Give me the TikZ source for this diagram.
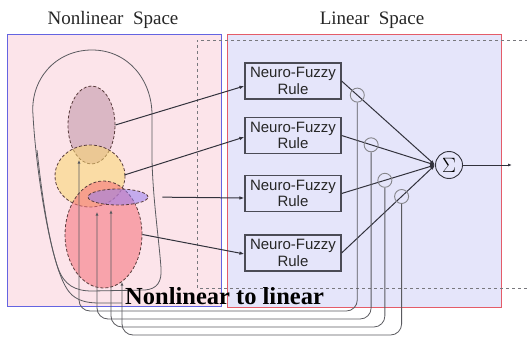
\documentclass[tikz,border=0pt]{standalone}
\usepackage{fontspec}
\setmainfont{Liberation Serif}
\setsansfont{Liberation Sans}
\usetikzlibrary{shapes.geometric,arrows.meta,calc}
\definecolor{pinkbg}{RGB}{252,228,234}
\definecolor{lavbg}{RGB}{229,229,250}
\definecolor{blueedge}{RGB}{100,100,225}
\definecolor{rededge}{RGB}{228,92,104}
\definecolor{dashc}{RGB}{120,120,125}
\definecolor{linec}{RGB}{50,50,60}
\definecolor{fbc}{RGB}{90,90,95}
\definecolor{boxc}{RGB}{75,75,85}
\definecolor{ellc}{RGB}{90,60,60}
\begin{document}
\begin{tikzpicture}[x=1pt,y=-1pt,
  tip/.style={-{Latex[length=5pt,width=3.6pt]}},
  conn/.style={draw=linec,line width=1pt,tip},
  fb/.style={draw=fbc,line width=0.8pt,rounded corners=11pt,-{Latex[length=3.5pt,width=3pt]}},
  contour/.style={draw=fbc,line width=0.8pt},
  rulebox/.style={draw=boxc,line width=1.2pt,fill=lavbg,minimum width=96pt,minimum height=36pt,inner sep=0pt,align=center,font=\sffamily\fontsize{15}{16.5}\selectfont,text=black!85},
  wcirc/.style={circle,draw=dashc!90,line width=0.9pt,minimum size=14pt,inner sep=0pt},
  memb/.style={ellipse,draw=ellc,densely dashed,line width=0.8pt,inner sep=0pt},
  title/.style={font=\fontsize{19}{22}\selectfont,text=black!85}]
\useasboundingbox (0,0) rectangle (527,337);
\clip (0,0) rectangle (527,337);
% background panels
\filldraw[fill=pinkbg,draw=blueedge,line width=1pt] (7,35) rectangle (221,306);
\filldraw[fill=lavbg,draw=rededge,line width=1pt] (227,35) rectangle (501,307);
\draw[dashc,dashed,line width=0.8pt] (540,40) -- (197,40) -- (197,288) -- (540,288);
% titles
\node[title,anchor=base] (tnl) at (113,25) {Nonlinear\ \ Space};
\node[title,anchor=base] (tl) at (372,25) {Linear\ \ Space};
% contour lines
\draw[contour] (92,50) .. controls (55,50) and (30,80) .. (33,115)
  .. controls (36,170) and (48,240) .. (58,268) .. controls (64,285) and (75,291) .. (92,291)
  -- (145,290) .. controls (157,289) and (162,282) .. (161,268)
  .. controls (159,240) and (153,200) .. (152,160) -- (152,115)
  .. controls (152,80) and (128,50) .. (92,50);
\draw[contour] (37,150) .. controls (44,215) and (55,280) .. (72,295) .. controls (80,302) and (90,303) .. (100,303) -- (122,303);
% membership ellipses
\node[memb,fill={rgb,255:red,185;green,140;blue,160},fill opacity=0.5,minimum width=47pt,minimum height=78pt] (e1) at (91.5,125) {};
\node[memb,fill={rgb,255:red,250;green,215;blue,110},fill opacity=0.55,minimum width=70pt,minimum height=62pt] (e2) at (90,176) {};
\node[memb,fill={rgb,255:red,245;green,110;blue,120},fill opacity=0.55,minimum width=77pt,minimum height=107pt] (e3) at (103.5,234.5) {};
\node[memb,fill={rgb,255:red,150;green,125;blue,240},fill opacity=0.55,minimum width=60pt,minimum height=16pt] (e4) at (118,197) {};
% rule boxes
\node[rulebox] (b1) at (293,81) {Neuro-Fuzzy\\Rule};
\node[rulebox] (b2) at (293,135.5) {Neuro-Fuzzy\\Rule};
\node[rulebox] (b3) at (293,193.5) {Neuro-Fuzzy\\Rule};
\node[rulebox] (b4) at (293,253) {Neuro-Fuzzy\\Rule};
% sum node
\node[circle,draw=linec,line width=0.9pt,minimum size=27pt,inner sep=0pt,font=\fontsize{21}{21}\selectfont] (sg) at (449,165) {$\Sigma$};
\coordinate (out) at (512,165);
% ellipse -> box connectors
\draw[conn] (e1.east) -- ($(b1.west)+(0,5)$);
\draw[conn] ($(e2.east)+(-1,-1)$) -- ($(b2.west)+(0,1.5)$);
\draw[conn,shorten <=14pt] (e4.east) -- ($(b3.west)+(0,4.5)$);
\draw[conn] (e3.east) -- ($(b4.west)+(0,1)$);
% box -> sum
\draw[conn] (b1.east) -- (sg.west);
\draw[conn] (b2.east) -- (sg.west);
\draw[conn] (b3.east) -- (sg.west);
\draw[conn] (b4.east) -- (sg.west);
\draw[draw=linec,line width=0.8pt,-{Latex[length=4pt,width=3pt]}] (sg.east) -- (out);
% weight circles
\node[wcirc] (c1) at ($(b1.east)!0.168!(sg.west)$) {};
\node[wcirc] (c2) at ($(b2.east)!0.316!(sg.west)$) {};
\node[wcirc] (c3) at ($(b3.east)!0.463!(sg.west)$) {};
\node[wcirc] (c4) at ($(b4.east)!0.642!(sg.west)$) {};
% feedback lines
\coordinate (t1) at (79,160);
\coordinate (t2) at (97,212);
\coordinate (t3) at (111,210);
\coordinate (t4) at (122,282);
\draw[fb] (c1.south) -- (c1.south |- 0,311) -- (t1 |- 0,311) -- (t1);
\draw[fb] (c2.south) -- (c2.south |- 0,319) -- (t2 |- 0,319) -- (t2);
\draw[fb] (c3.south) -- (c3.south |- 0,327) -- (t3 |- 0,327) -- (t3);
\draw[fb] (c4.south) -- (c4.south |- 0,335) -- (t4 |- 0,335) -- (t4);
% caption
\node[anchor=base west,inner sep=0pt,font=\bfseries\fontsize{24.5}{28}\selectfont] (cap) at (125,304) {Nonlinear to linear};
\end{tikzpicture}
\end{document}
